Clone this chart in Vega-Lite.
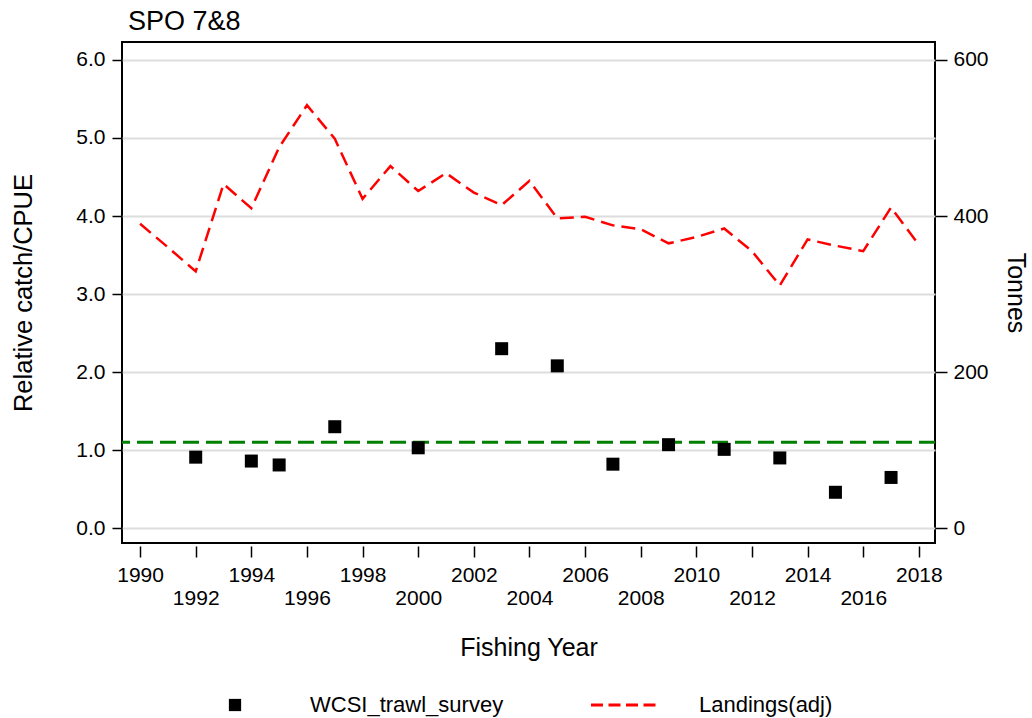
{
  "$schema": "https://vega.github.io/schema/vega-lite/v6.json",
  "width": 813,
  "height": 501,
  "autosize": "none",
  "padding": {"left": 122, "top": 42, "right": 97, "bottom": 175},
  "background": "white",
  "config": {
    "font": "Liberation Sans",
    "view": {"stroke": "black", "strokeWidth": 2},
    "axis": {"domain": false, "labelColor": "black", "tickColor": "black", "titleColor": "black", "titleFontWeight": "normal", "labelFont": "Liberation Sans", "titleFont": "Liberation Sans"},
    "legend": {"layout": {"bottom": {"anchor": "middle"}}}
  },
  "title": {
    "text": "SPO 7&8",
    "anchor": "start",
    "frame": "group",
    "font": "Liberation Sans",
    "fontSize": 27,
    "fontWeight": "normal",
    "color": "black",
    "dx": 6,
    "offset": 6
  },
  "datasets": {
    "landings": [
      {"year": 1990, "series": "Landings(adj)", "tonnes": 390},
      {"year": 1991, "series": "Landings(adj)", "tonnes": 360},
      {"year": 1992, "series": "Landings(adj)", "tonnes": 329},
      {"year": 1993, "series": "Landings(adj)", "tonnes": 441},
      {"year": 1994, "series": "Landings(adj)", "tonnes": 410},
      {"year": 1995, "series": "Landings(adj)", "tonnes": 488},
      {"year": 1996, "series": "Landings(adj)", "tonnes": 542},
      {"year": 1997, "series": "Landings(adj)", "tonnes": 499},
      {"year": 1998, "series": "Landings(adj)", "tonnes": 422},
      {"year": 1999, "series": "Landings(adj)", "tonnes": 464},
      {"year": 2000, "series": "Landings(adj)", "tonnes": 432},
      {"year": 2001, "series": "Landings(adj)", "tonnes": 455},
      {"year": 2002, "series": "Landings(adj)", "tonnes": 430},
      {"year": 2003, "series": "Landings(adj)", "tonnes": 414},
      {"year": 2004, "series": "Landings(adj)", "tonnes": 445},
      {"year": 2005, "series": "Landings(adj)", "tonnes": 397},
      {"year": 2006, "series": "Landings(adj)", "tonnes": 399},
      {"year": 2007, "series": "Landings(adj)", "tonnes": 388},
      {"year": 2008, "series": "Landings(adj)", "tonnes": 383},
      {"year": 2009, "series": "Landings(adj)", "tonnes": 365},
      {"year": 2010, "series": "Landings(adj)", "tonnes": 373},
      {"year": 2011, "series": "Landings(adj)", "tonnes": 384},
      {"year": 2012, "series": "Landings(adj)", "tonnes": 355},
      {"year": 2013, "series": "Landings(adj)", "tonnes": 311},
      {"year": 2014, "series": "Landings(adj)", "tonnes": 370},
      {"year": 2015, "series": "Landings(adj)", "tonnes": 362},
      {"year": 2016, "series": "Landings(adj)", "tonnes": 355},
      {"year": 2017, "series": "Landings(adj)", "tonnes": 411},
      {"year": 2018, "series": "Landings(adj)", "tonnes": 363}
    ],
    "survey": [
      {"year": 1992, "series": "WCSI_trawl_survey", "value": 0.91},
      {"year": 1994, "series": "WCSI_trawl_survey", "value": 0.86},
      {"year": 1995, "series": "WCSI_trawl_survey", "value": 0.81},
      {"year": 1997, "series": "WCSI_trawl_survey", "value": 1.30},
      {"year": 2000, "series": "WCSI_trawl_survey", "value": 1.03},
      {"year": 2003, "series": "WCSI_trawl_survey", "value": 2.30},
      {"year": 2005, "series": "WCSI_trawl_survey", "value": 2.08},
      {"year": 2007, "series": "WCSI_trawl_survey", "value": 0.82},
      {"year": 2009, "series": "WCSI_trawl_survey", "value": 1.07},
      {"year": 2011, "series": "WCSI_trawl_survey", "value": 1.01},
      {"year": 2013, "series": "WCSI_trawl_survey", "value": 0.90},
      {"year": 2015, "series": "WCSI_trawl_survey", "value": 0.46},
      {"year": 2017, "series": "WCSI_trawl_survey", "value": 0.65}
    ],
    "reference": [
      {"value": 1.1}
    ]
  },
  "layer": [
    {
      "data": {"name": "landings"},
      "mark": {"type": "line", "strokeDash": [14, 7], "strokeWidth": 2.5},
      "encoding": {
        "x": {
          "field": "year",
          "type": "quantitative",
          "scale": {"domain": [1989.35, 2018.58], "nice": false, "zero": false},
          "axis": {
            "title": "Fishing Year",
            "titleFontSize": 25,
            "titlePadding": 27,
            "values": [1990, 1991, 1992, 1993, 1994, 1995, 1996, 1997, 1998, 1999, 2000, 2001, 2002, 2003, 2004, 2005, 2006, 2007, 2008, 2009, 2010, 2011, 2012, 2013, 2014, 2015, 2016, 2017, 2018],
            "format": "d",
            "labelExpr": "datum.value % 2 == 0 ? toString(datum.value) : ''",
            "labelFontSize": 21,
            "labelOverlap": false,
            "labelFlush": false,
            "labelBound": false,
            "offset": 3,
            "grid": false,
            "tickWidth": 1.5,
            "tickSize": {"condition": {"test": "datum.value % 2 == 1", "value": 7}, "value": 11},
            "labelPadding": {"condition": {"test": "datum.value % 4 == 0", "value": 30}, "value": 7}
          }
        },
        "y": {
          "field": "tonnes",
          "type": "quantitative",
          "scale": {"domain": [-19, 623], "nice": false, "zero": false},
          "axis": {
            "orient": "right",
            "title": "Tonnes",
            "titleFontSize": 25,
            "titlePadding": 14,
            "values": [0, 200, 400, 600],
            "labelFontSize": 21,
            "tickSize": 12,
            "tickWidth": 1.5,
            "labelPadding": 6,
            "grid": false
          }
        },
        "color": {
          "field": "series",
          "type": "nominal",
          "scale": {"domain": ["WCSI_trawl_survey", "Landings(adj)"], "range": ["black", "#ff0000"]},
          "legend": {
            "orient": "bottom",
            "direction": "horizontal",
            "title": null,
            "offset": 34,
            "labelFontSize": 22,
            "labelFont": "Liberation Sans",
            "labelColor": "black",
            "labelLimit": 400,
            "labelOffset": 64,
            "columnPadding": 81,
            "symbolSize": 4356,
            "encode": {
              "symbols": {
                "update": {
                  "shape": {"signal": "datum.value === 'Landings(adj)' ? 'M-1,0H1' : 'square'"},
                  "size": {"signal": "datum.value === 'Landings(adj)' ? 4356 : 150"},
                  "fill": {"signal": "datum.value === 'Landings(adj)' ? 'transparent' : 'black'"},
                  "stroke": {"signal": "datum.value === 'Landings(adj)' ? '#ff0000' : 'black'"},
                  "strokeWidth": {"signal": "datum.value === 'Landings(adj)' ? 3 : 0"},
                  "strokeDash": {"value": [12, 5.5]},
                  "opacity": {"value": 1}
                }
              }
            }
          }
        }
      }
    },
    {
      "encoding": {
        "y": {
          "field": "value",
          "type": "quantitative",
          "scale": {"domain": [-0.19, 6.23], "nice": false, "zero": false},
          "axis": {
            "orient": "left",
            "title": "Relative catch/CPUE",
            "titleFontSize": 25.5,
            "titlePadding": 39,
            "values": [0, 1, 2, 3, 4, 5, 6],
            "format": ".1f",
            "labelFontSize": 21,
            "tickSize": 10,
            "tickWidth": 1.5,
            "labelPadding": 7,
            "grid": true,
            "gridColor": "#dddddd",
            "gridWidth": 2
          }
        }
      },
      "layer": [
        {
          "data": {"name": "reference"},
          "mark": {"type": "rule", "color": "#008000", "strokeWidth": 3, "strokeDash": [16, 7]}
        },
        {
          "data": {"name": "survey"},
          "mark": {"type": "square", "filled": true, "size": 169, "opacity": 1},
          "encoding": {
            "x": {
              "field": "year",
              "type": "quantitative",
              "title": "Fishing Year"
            },
            "color": {
              "field": "series",
              "type": "nominal",
              "scale": {"domain": ["WCSI_trawl_survey", "Landings(adj)"], "range": ["black", "#ff0000"]}
            }
          }
        }
      ]
    }
  ],
  "resolve": {"scale": {"y": "independent"}}
}
